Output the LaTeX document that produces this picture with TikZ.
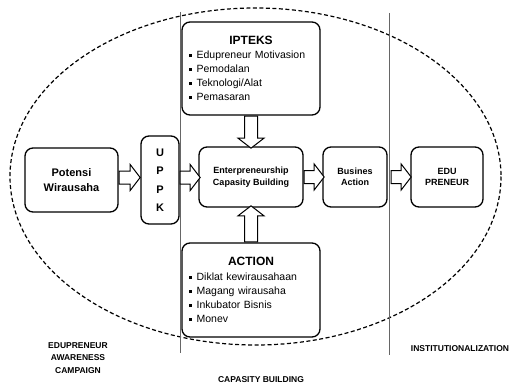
\documentclass[tikz,border=0pt]{standalone}
\usepackage{fontspec}
\setmainfont{Liberation Sans}
\usetikzlibrary{positioning, shapes.arrows}

\newcommand{\bul}{\rule[1.6pt]{2.6pt}{2.6pt}\hspace{5pt}}

\begin{document}
\begin{tikzpicture}[x=1pt, y=-1pt, on grid,
    box/.style={draw, line width=1.3pt, rounded corners=8pt, fill=white, align=center,
                inner sep=0pt, font=\bfseries\fontsize{9}{11.5}\selectfont},
    lst/.style={box, align=left, inner xsep=7pt, text width=124pt,
                font=\fontsize{10.5}{14}\selectfont},
    fat/.style={single arrow, draw, line width=1pt, fill=white, inner xsep=0pt,
                inner ysep=6pt, single arrow head extend=6.5pt,
                single arrow tip angle=105, anchor=tail},
    lbl/.style={align=center, font=\bfseries\fontsize{8.5}{12.7}\selectfont}]

   \useasboundingbox (0,0) rectangle (511,385);

   % dashed campaign ellipse and dividers
   \draw[line width=1.2pt, dash pattern=on 4pt off 2.5pt] (255.5,176.5) ellipse [x radius=245.5, y radius=168.5];
   \draw[gray!80!black, line width=0.6pt] (180,12) -- (180,353);
   \draw[gray!80!black, line width=0.6pt] (389,13) -- (389,355);

   \node[box, minimum width=93pt, minimum height=64pt, font=\bfseries\fontsize{11}{15}\selectfont] (pot) at (71.5,180) {Potensi\\Wirausaha};
   \node[box, minimum width=38pt, minimum height=88pt, font=\bfseries\fontsize{11}{18.5}\selectfont] (uppk) [right=88.5pt of pot] {U\\P\\P\\K};
   \node[box, minimum width=104pt, minimum height=60pt] (ent) [right=91pt of uppk, yshift=3pt] {Enterpreneurship\\Capasity Building};
   \node[box, minimum width=64pt, minimum height=60pt] (bus) [right=104pt of ent] {Busines\\Action};
   \node[box, minimum width=72pt, minimum height=60pt] (edu) [right=92pt of bus] {EDU\\PRENEUR};

   \node[lst, minimum height=93pt] (ipt) [above=108.5pt of ent]
      {\makebox[124pt]{\bfseries\fontsize{12}{14}\selectfont IPTEKS}\\[0pt]
       \bul Edupreneur Motivasion\\ \bul Pemodalan\\ \bul Teknologi/Alat\\ \bul Pemasaran};
   \node[lst, minimum height=94pt] (act) [below=113pt of ent]
      {\makebox[124pt]{\bfseries\fontsize{12}{14}\selectfont ACTION}\\[1pt]
       \bul Diklat kewirausahaan\\ \bul Magang wirausaha\\ \bul Inkubator Bisnis\\ \bul Monev};

   % block arrows
   \node[fat, minimum height=21pt] (a1) at ([yshift=2.5pt]pot.east) {};
   \node[fat, minimum height=20pt] (a2) at ([yshift=2.5pt]uppk.east) {};
   \node[fat, minimum height=20pt] (a3) at (ent.east) {};
   \node[fat, minimum height=20pt] (a4) at ([xshift=3pt]bus.east) {};
   \node[fat, minimum height=32pt, rotate=-90] (a5) at (ipt.south) {};
   \node[fat, minimum height=36pt, rotate=90] (a6) at (act.north) {};

   \node[lbl] (eac) at (78,358) {EDUPRENEUR\\AWARENESS\\CAMPAIGN};
   \node[lbl] (cb) at (261,380) {CAPASITY BUILDING};
   \node[lbl] (inst) at (460,349) {INSTITUTIONALIZATION};
\end{tikzpicture}
\end{document}
